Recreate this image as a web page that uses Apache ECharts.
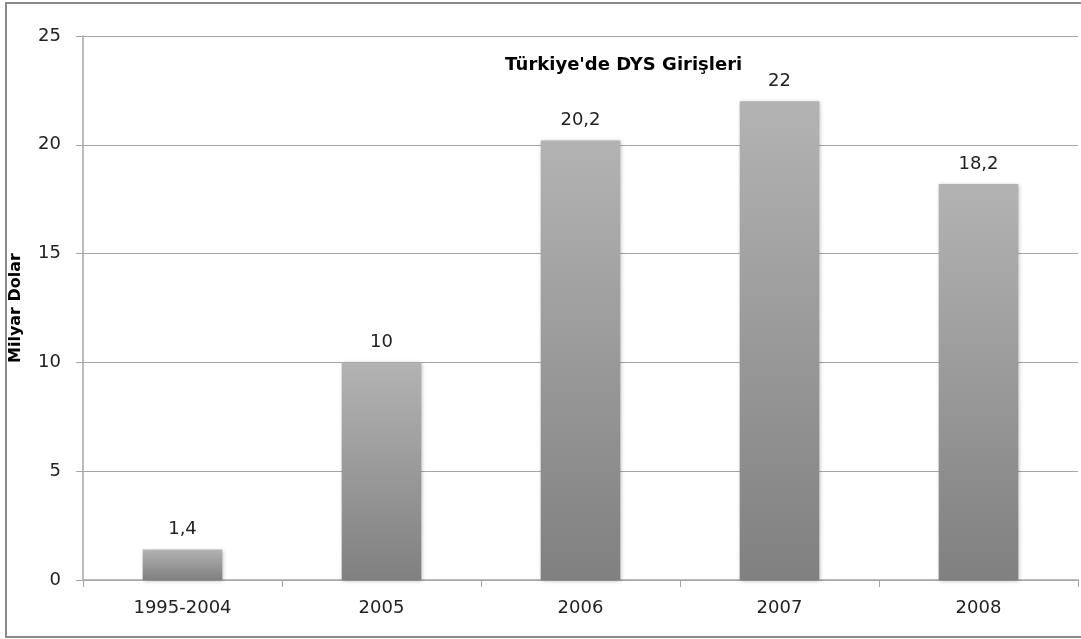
<!DOCTYPE html>
<html>
<head>
<meta charset="utf-8">
<script src="https://cdn.jsdelivr.net/npm/echarts@6/dist/echarts.min.js"></script>
<style>
  html, body { margin: 0; padding: 0; background: #fff; }
  #chart { width: 1081px; height: 639px; }
</style>
</head>
<body>
<div id="chart"></div>
<script>
// data
const categories = ['1995-2004', '2005', '2006', '2007', '2008'];
const values = [1.4, 10, 20.2, 22, 18.2];
const yTicks = [0, 5, 10, 15, 20, 25];

const chart = echarts.init(document.getElementById('chart'), null, { renderer: 'canvas' });
const font = '"DejaVu Sans", "Open Sans", sans-serif';

chart.setOption({
  animation: false,
  backgroundColor: '#fff',
  textStyle: { fontFamily: font },
  title: {
    text: "Türkiye'de DYS Girişleri",
    left: 500,
    top: 51,
    textStyle: { fontSize: 18, fontWeight: 'bold', color: '#000', fontFamily: font }
  },
  graphic: [{
    type: 'rect',
    shape: { x: 6, y: 3, width: 1090, height: 634 },
    style: { fill: 'none', stroke: '#8a8a8a', lineWidth: 2 },
    silent: true
  }],
  grid: { left: 83, right: 3, top: 36, bottom: 59 },
  xAxis: {
    type: 'category',
    data: categories,
    axisLine: { lineStyle: { color: '#a6a6a6', width: 1.5 } },
    axisTick: { show: true, alignWithLabel: false, length: 7, lineStyle: { color: '#a6a6a6' } },
    axisLabel: { color: '#222', fontSize: 18, margin: 19, fontFamily: font }
  },
  yAxis: {
    type: 'value',
    min: yTicks[0],
    max: yTicks[yTicks.length - 1],
    interval: 5,
    name: 'Milyar Dolar',
    nameLocation: 'middle',
    nameGap: 59,
    nameRotate: 90,
    nameTextStyle: { fontSize: 16, fontWeight: 'bold', color: '#000', fontFamily: font },
    axisLine: { show: true, lineStyle: { color: '#a6a6a6', width: 1.5 } },
    axisTick: { show: true, length: 7, lineStyle: { color: '#a6a6a6' } },
    axisLabel: { color: '#222', fontSize: 18, margin: 22, fontFamily: font },
    splitLine: { lineStyle: { color: '#a6a6a6', width: 1.2 } }
  },
  series: [{
    type: 'bar',
    data: values,
    barWidth: '40%',
    itemStyle: {
      color: new echarts.graphic.LinearGradient(0, 0, 0, 1, [
        { offset: 0, color: '#b3b3b3' },
        { offset: 1, color: '#808080' }
      ]),
      shadowColor: 'rgba(0,0,0,0.25)',
      shadowBlur: 4,
      shadowOffsetX: 1,
      shadowOffsetY: 1
    },
    label: {
      show: true,
      position: 'top',
      distance: 11,
      color: '#222',
      fontSize: 18,
      fontFamily: font,
      formatter: p => String(p.value).replace('.', ',')
    }
  }]
});
</script>
</body>
</html>
